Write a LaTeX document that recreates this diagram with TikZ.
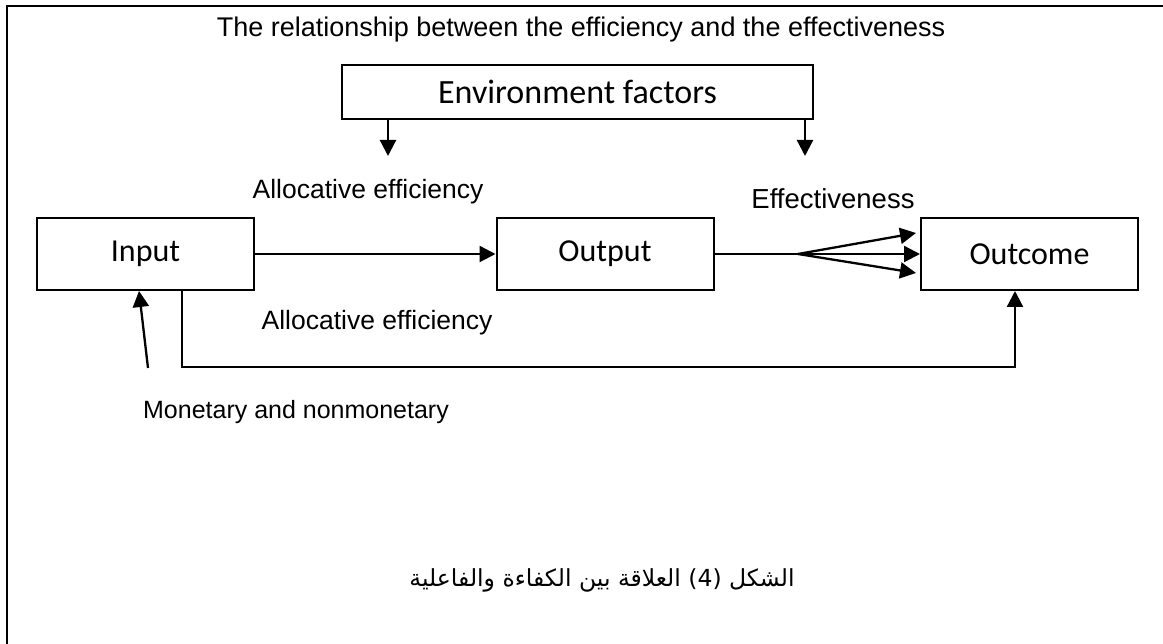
\documentclass[tikz,border=0pt]{standalone}
\usepackage{fontspec}
\setmainfont{Liberation Sans}
\newfontfamily\boxfont{Carlito}
\newfontfamily\arabicfont[Script=Arabic]{DejaVu Sans}
\TeXXeTstate=1
\usetikzlibrary{arrows.meta}
\tikzset{
  stage/.style={draw, line width=2pt, minimum width=217pt, minimum height=72pt, inner sep=0pt,
    font=\boxfont\fontsize{32}{36}\selectfont},
  lbl/.style={inner sep=0pt, font=\fontsize{26.5}{30}\selectfont},
  arr/.style={line width=2.3pt, -{Triangle[length=16pt, width=16pt]}}
}

\begin{document}
\begin{tikzpicture}[x=1pt, y=-1pt]
  \useasboundingbox (0,0) rectangle (1163,644);
  %%%%% FRAME %%%%%
  \draw[line width=2.5pt] (7,644) -- (7,6) -- (1163,6);

  \node[lbl, font=\fontsize{27}{31}\selectfont] (title) at (581,30)
    {The relationship between the efficiency and the effectiveness};
  \node[stage, minimum width=471pt, minimum height=54pt, font=\boxfont\fontsize{34}{38}\selectfont]
    (env) at (577.5,92) {Environment factors};

  \node[stage] (input) at (145.5,254) {Input};
  \node[stage] (output) at (605,254) {Output};
  \node[stage] (outcome) at (1029.5,254) {Outcome};

  \node[lbl] (alloctop) at (368,192) {Allocative efficiency};
  \node[lbl, font=\fontsize{27.5}{31}\selectfont] (effect) at (833,199) {Effectiveness};
  \node[lbl] (allocbot) at (377,323) {Allocative efficiency};
  \node[lbl, font=\fontsize{25}{29}\selectfont] (money) at (296,412) {Monetary and nonmonetary};
  \node[inner sep=0pt, font=\arabicfont\fontsize{23.5}{27}\selectfont] (caption) at (602,580)
    {\beginR الشكل (4) العلاقة بين الكفاءة والفاعلية\endR};

  %%%%% CONNECTORS %%%%%
  \coordinate (envl) at (388,156);
  \coordinate (envr) at (805,156);
  \draw[arr] (env.south -| envl) -- (envl);
  \draw[arr] (env.south -| envr) -- (envr);

  \draw[arr] (input.east) -- (output.west);

  \coordinate (fan) at (798,254);
  \draw[line width=2.3pt] (output.east) -- (fan);
  \draw[arr] (fan) -- ([shift={(-4pt,21pt)}]outcome.west);
  \draw[arr] (fan) -- (outcome.west);
  \draw[arr] (fan) -- ([shift={(-4pt,-19pt)}]outcome.west);

  \draw[arr] ([xshift=36.5pt]input.south) -- ++(0,76) -| ([xshift=-14.5pt]outcome.south);

  \coordinate (moneytail) at (148,368);
  \draw[arr] (moneytail) -- ([xshift=-6.5pt]input.south);
\end{tikzpicture}
\end{document}
